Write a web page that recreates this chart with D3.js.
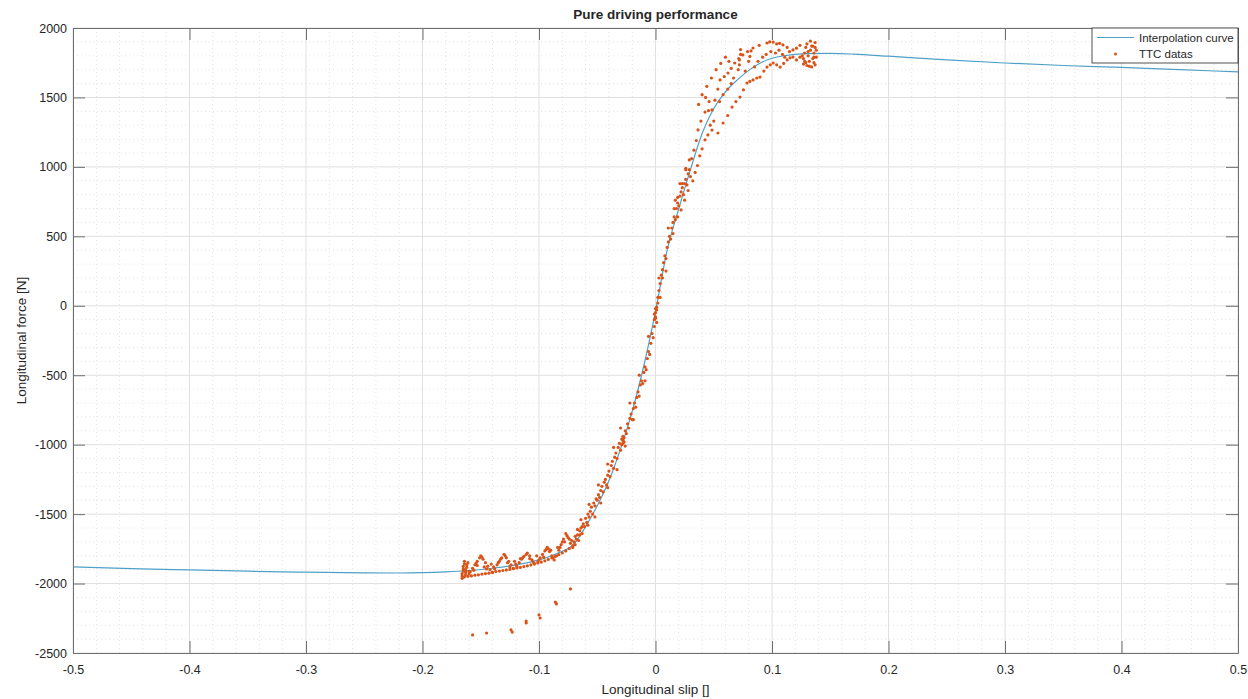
<!DOCTYPE html>
<html>
<head>
<meta charset="utf-8">
<script src="https://cdn.jsdelivr.net/npm/d3@7"></script>
<style>
  body { margin: 0; background: #fff; }
  text { font-family: "Liberation Sans", Arial, sans-serif; fill: #262626; }
</style>
</head>
<body>
<div id="chart"></div>
<script>
// tick labels
const xTicks = [-0.5, -0.4, -0.3, -0.2, -0.1, 0, 0.1, 0.2, 0.3, 0.4, 0.5]
const xTickLabels = ['-0.5', '-0.4', '-0.3', '-0.2', '-0.1', '0', '0.1', '0.2', '0.3', '0.4', '0.5']
const yTicks = [-2500, -2000, -1500, -1000, -500, 0, 500, 1000, 1500, 2000]

// interpolation curve
const curveSlip = [-0.5, -0.45, -0.4, -0.35, -0.3, -0.25, -0.22, -0.2, -0.18, -0.16, -0.14, -0.12, -0.1, -0.085, -0.07, -0.06, -0.05, -0.04, -0.03, -0.02, -0.01, 0, 0.01, 0.02, 0.03, 0.04, 0.05, 0.06, 0.07, 0.08, 0.09, 0.1, 0.11, 0.12, 0.13, 0.15, 0.17, 0.2, 0.25, 0.3, 0.35, 0.4, 0.45, 0.5]
const curveForce = [-1880, -1892, -1902, -1911, -1918, -1923, -1924, -1922, -1916, -1906, -1890, -1866, -1830, -1785, -1715, -1590, -1440, -1260, -1030, -760, -430, -40, 400, 700, 980, 1240, 1420, 1540, 1625, 1695, 1748, 1782, 1800, 1810, 1815, 1817, 1812, 1797, 1770, 1748, 1730, 1716, 1700, 1684]

// TTC datas, [slip, force]
const lowBand = [
  [-0.166, -1962], [-0.166, -1945], [-0.166, -1928], [-0.165, -1910], [-0.165, -1893], [-0.165, -1876],
  [-0.164, -1858], [-0.164, -1840], [-0.164, -1952], [-0.163, -1935], [-0.163, -1918], [-0.163, -1900],
  [-0.162, -1883], [-0.162, -1866], [-0.161, -1948], [-0.161, -1850], [-0.160, -1930], [-0.160, -1912],
  [-0.159, -1915], [-0.157, -1890], [-0.155, -1865], [-0.153, -1840], [-0.151, -1815], [-0.150, -1800],
  [-0.148, -1825], [-0.146, -1850], [-0.144, -1875], [-0.142, -1900], [-0.140, -1920],
  [-0.138, -1895], [-0.136, -1865], [-0.134, -1840], [-0.132, -1815], [-0.130, -1790],
  [-0.128, -1815], [-0.126, -1840], [-0.124, -1865], [-0.122, -1890],
  [-0.119, -1875], [-0.117, -1850], [-0.115, -1825], [-0.113, -1805], [-0.110, -1780],
  [-0.108, -1800], [-0.106, -1830], [-0.104, -1855],
  [-0.101, -1845], [-0.099, -1815], [-0.097, -1790], [-0.095, -1765], [-0.093, -1740],
  [-0.091, -1770], [-0.089, -1800], [-0.087, -1830],
  [-0.085, -1800], [-0.083, -1760], [-0.081, -1720], [-0.079, -1680], [-0.077, -1640],
  [-0.075, -1670], [-0.073, -1710],
  [-0.158, -1945], [-0.155, -1940], [-0.152, -1937], [-0.149, -1932], [-0.146, -1928], [-0.143, -1925],
  [-0.140, -1920], [-0.137, -1914], [-0.134, -1910], [-0.131, -1906], [-0.128, -1902], [-0.125, -1898],
  [-0.122, -1893], [-0.119, -1888], [-0.116, -1884], [-0.113, -1878], [-0.110, -1872], [-0.107, -1866],
  [-0.104, -1860], [-0.101, -1852], [-0.098, -1845], [-0.095, -1836], [-0.092, -1826], [-0.089, -1815],
  [-0.086, -1804], [-0.083, -1792], [-0.080, -1780], [-0.077, -1765], [-0.074, -1748], [-0.071, -1728],
  [-0.153, -1870], [-0.147, -1880], [-0.141, -1860], [-0.135, -1850], [-0.127, -1850], [-0.121, -1840],
  [-0.116, -1820], [-0.108, -1820], [-0.102, -1800], [-0.096, -1810], [-0.090, -1760], [-0.084, -1740],
  [-0.078, -1700], [-0.074, -1680],
  [-0.156, -1905], [-0.154, -1855], [-0.149, -1810], [-0.145, -1895], [-0.139, -1880], [-0.133, -1825],
  [-0.129, -1800], [-0.125, -1880], [-0.120, -1860], [-0.114, -1815], [-0.111, -1790], [-0.105, -1845],
  [-0.100, -1830], [-0.094, -1755], [-0.092, -1750], [-0.088, -1815], [-0.082, -1740], [-0.080, -1700],
  [-0.076, -1655], [-0.072, -1690], [-0.069, -1660], [-0.067, -1610], [-0.065, -1650], [-0.063, -1590]
]

const midBand = [
  [-0.071, -1740], [-0.070, -1700], [-0.069, -1720], [-0.068, -1680], [-0.067, -1650], [-0.066, -1690],
  [-0.065, -1620], [-0.064, -1600], [-0.063, -1640], [-0.062, -1570], [-0.061, -1590], [-0.060, -1530],
  [-0.059, -1560], [-0.058, -1500], [-0.057, -1520], [-0.056, -1480], [-0.055, -1450], [-0.054, -1500],
  [-0.053, -1420], [-0.052, -1440], [-0.051, -1390], [-0.050, -1400], [-0.049, -1360], [-0.048, -1380],
  [-0.047, -1330], [-0.046, -1300], [-0.045, -1340], [-0.044, -1270], [-0.043, -1250], [-0.042, -1290],
  [-0.041, -1220], [-0.040, -1190], [-0.039, -1230], [-0.038, -1150], [-0.037, -1120], [-0.036, -1170],
  [-0.035, -1090], [-0.034, -1060], [-0.033, -1100], [-0.032, -1020], [-0.031, -990], [-0.030, -1040],
  [-0.029, -960], [-0.028, -970], [-0.028, -940], [-0.027, -950], [-0.026, -900], [-0.025, -920],
  [-0.024, -850], [-0.023, -880], [-0.022, -810], [-0.021, -780], [-0.020, -820], [-0.019, -740],
  [-0.018, -700], [-0.017, -730], [-0.016, -660], [-0.015, -620], [-0.014, -650], [-0.013, -570],
  [-0.012, -540], [-0.011, -560], [-0.010, -480], [-0.009, -440], [-0.008, -460], [-0.007, -380],
  [-0.006, -330], [-0.005, -350], [-0.004, -270], [-0.003, -200], [-0.002, -230], [-0.001, -150],
  [-0.001, -100], [0.000, -80], [0.000, -50], [0.001, -30], [0.001, -120], [0.002, 20], [0.002, 60],
  [0.003, 110], [0.004, 160], [0.005, 220], [0.006, 200], [0.006, 260], [0.007, 310], [0.008, 360],
  [0.009, 340], [0.010, 420], [0.011, 460], [0.012, 500], [0.013, 480], [0.014, 560], [0.015, 600],
  [0.016, 640], [0.017, 620], [0.018, 700], [0.019, 740], [0.020, 720], [0.021, 790], [0.022, 820],
  [0.023, 850], [0.024, 800], [0.025, 880], [0.026, 910], [0.027, 870], [0.028, 950], [0.029, 980],
  [0.030, 930],
  [-0.058, -1580], [-0.052, -1520], [-0.047, -1420], [-0.041, -1310], [-0.033, -1180], [-0.026, -1010],
  [-0.019, -820], [-0.009, -540], [0.004, 60], [0.009, 250], [0.015, 520], [0.019, 640],
  [-0.064, -1540], [-0.057, -1430], [-0.049, -1290], [-0.041, -1140], [-0.036, -1020], [-0.030, -880],
  [-0.022, -700], [-0.014, -500], [-0.006, -220], [0.003, 200], [0.011, 560], [0.017, 760],
  [0.021, 880], [0.026, 990],
  [-0.028, -990], [-0.027, -980], [-0.029, -1000], [-0.028, -960],
  [0.000, -20], [-0.001, -60], [0.000, -90], [0.001, -10]
]

const topBand = [
  [0.031, 1060], [0.033, 1120], [0.035, 1190], [0.0365, 1266], [0.039, 1330], [0.0425, 1395],
  [0.0455, 1405], [0.0485, 1410], [0.051, 1480], [0.0535, 1560], [0.0554, 1626], [0.059, 1650],
  [0.0622, 1676], [0.065, 1710], [0.068, 1748], [0.0715, 1780], [0.075, 1806], [0.079, 1830],
  [0.0837, 1856], [0.089, 1875], [0.0957, 1892], [0.098, 1900], [0.101, 1899], [0.104, 1885],
  [0.1065, 1890], [0.1094, 1878], [0.113, 1860], [0.118, 1842], [0.121, 1855], [0.124, 1875],
  [0.071, 1700], [0.072, 1735], [0.072, 1770], [0.073, 1810], [0.073, 1845],
  [0.080, 1760], [0.081, 1795], [0.082, 1835],
  [0.0536, 1244], [0.058, 1316], [0.062, 1370], [0.0657, 1431], [0.069, 1470], [0.0725, 1503],
  [0.0755, 1555], [0.0785, 1604], [0.081, 1615], [0.0837, 1626], [0.087, 1640], [0.0897, 1647],
  [0.093, 1690], [0.0957, 1719], [0.0985, 1735], [0.101, 1748], [0.104, 1735], [0.107, 1719],
  [0.110, 1745], [0.113, 1770], [0.1155, 1785], [0.118, 1791], [0.121, 1770], [0.124, 1790],
  [0.0425, 1195], [0.045, 1230], [0.0485, 1265], [0.047, 1300], [0.050, 1330],
  [0.062, 1560], [0.065, 1600], [0.067, 1640], [0.077, 1690], [0.085, 1720], [0.088, 1760],
  [0.092, 1790], [0.095, 1810], [0.099, 1830], [0.103, 1820], [0.106, 1840], [0.109, 1810],
  [0.111, 1790], [0.115, 1830],
  [0.127, 1740], [0.127, 1780], [0.128, 1820], [0.129, 1860], [0.130, 1730], [0.130, 1885],
  [0.131, 1800], [0.132, 1760], [0.133, 1905], [0.133, 1840], [0.134, 1720], [0.135, 1780],
  [0.135, 1870], [0.136, 1750], [0.136, 1820], [0.137, 1895], [0.137, 1860], [0.137, 1735],
  [0.138, 1790], [0.138, 1840], [0.126, 1800], [0.128, 1760], [0.131, 1830], [0.134, 1870],
  [0.136, 1790], [0.132, 1725], [0.129, 1750],
  [0.016, 700], [0.019, 780], [0.023, 880], [0.026, 980], [0.029, 1050],
  [0.022, 690], [0.025, 760], [0.028, 830], [0.032, 900], [0.034, 960], [0.036, 1010],
  [0.038, 1080], [0.040, 1130],
  [0.037, 1450], [0.040, 1520], [0.044, 1580], [0.048, 1640], [0.052, 1700], [0.056, 1745],
  [0.060, 1790], [0.063, 1760], [0.043, 1500], [0.046, 1470], [0.055, 1470], [0.058, 1520]
]

const outliers = [
  [-0.157, -2370], [-0.145, -2356], [-0.124, -2334], [-0.123, -2349], [-0.111, -2284], [-0.111, -2270],
  [-0.100, -2226], [-0.099, -2248], [-0.086, -2133], [-0.085, -2147], [-0.073, -2039]
]

const margin = { top: 28, right: 10, bottom: 46, left: 73 }
const width = 1248 - margin.left - margin.right
const height = 699 - margin.top - margin.bottom

const svg = d3
  .select('#chart')
  .append('svg')
  .attr('width', 1248)
  .attr('height', 699)

const g = svg
  .append('g')
  .attr('transform', 'translate(' + margin.left + ',' + margin.top + ')')

const xScale = d3.scaleLinear().domain([-0.5, 0.5]).range([0, width])
const yScale = d3.scaleLinear().domain([-2500, 2000]).range([height, 0])

// minor grid (dotted)
const xMinor = d3.range(-50, 51, 2).map(i => i / 100).filter(v => Math.round(v * 100) % 10 !== 0)
const yMinor = d3.range(-2500, 2001, 100).filter(v => v % 500 !== 0)

g.append('g')
  .selectAll('line')
  .data(xMinor)
  .enter()
  .append('line')
  .attr('x1', d => xScale(d))
  .attr('x2', d => xScale(d))
  .attr('y1', 0)
  .attr('y2', height)
  .attr('stroke', '#e3e3e3')
  .attr('stroke-dasharray', '1,3')

g.append('g')
  .selectAll('line')
  .data(yMinor)
  .enter()
  .append('line')
  .attr('x1', 0)
  .attr('x2', width)
  .attr('y1', d => yScale(d))
  .attr('y2', d => yScale(d))
  .attr('stroke', '#e3e3e3')
  .attr('stroke-dasharray', '1,3')

// major grid
g.append('g')
  .selectAll('line')
  .data(xTicks)
  .enter()
  .append('line')
  .attr('x1', d => xScale(d))
  .attr('x2', d => xScale(d))
  .attr('y1', 0)
  .attr('y2', height)
  .attr('stroke', '#e0e0e0')

g.append('g')
  .selectAll('line')
  .data(yTicks)
  .enter()
  .append('line')
  .attr('x1', 0)
  .attr('x2', width)
  .attr('y1', d => yScale(d))
  .attr('y2', d => yScale(d))
  .attr('stroke', '#e0e0e0')

// interpolation curve
const curvePts = curveSlip.map((s, i) => [s, curveForce[i]])
const line = d3
  .line()
  .x(d => xScale(d[0]))
  .y(d => yScale(d[1]))
  .curve(d3.curveMonotoneX)

g.append('path')
  .datum(curvePts)
  .attr('d', line)
  .attr('fill', 'none')
  .attr('stroke', '#4fa0c8')
  .attr('stroke-width', 1.2)

// TTC datas
const allPts = lowBand.concat(midBand, topBand, outliers)
g.append('g')
  .selectAll('circle')
  .data(allPts)
  .enter()
  .append('circle')
  .attr('cx', d => xScale(d[0]))
  .attr('cy', d => yScale(d[1]))
  .attr('r', 1.6)
  .attr('fill', '#D95319')

// axes, ticks pointing inward like matlab
const axisColor = '#6e6e6e'
function styleAxis (sel) {
  sel.selectAll('.domain').attr('stroke', axisColor)
  sel.selectAll('.tick line').attr('stroke', axisColor)
  sel.selectAll('.tick text')
    .style('font-family', '"Liberation Sans", Arial, sans-serif')
    .style('font-size', '12.5px')
    .attr('fill', '#262626')
}

g.append('g')
  .attr('transform', 'translate(0,' + height + ')')
  .call(d3.axisBottom(xScale).tickValues(xTicks).tickFormat((d, i) => xTickLabels[i]).tickSizeInner(-12).tickSizeOuter(0).tickPadding(12))
  .call(styleAxis)

g.append('g')
  .call(d3.axisTop(xScale).tickValues(xTicks).tickFormat('').tickSizeInner(-12).tickSizeOuter(0))
  .call(styleAxis)

g.append('g')
  .call(d3.axisLeft(yScale).tickValues(yTicks).tickFormat(d => String(d)).tickSizeInner(-12).tickSizeOuter(0).tickPadding(6))
  .call(styleAxis)

g.append('g')
  .attr('transform', 'translate(' + width + ',0)')
  .call(d3.axisRight(yScale).tickValues(yTicks).tickFormat('').tickSizeInner(-12).tickSizeOuter(0))
  .call(styleAxis)

// title and labels
svg.append('text')
  .attr('x', margin.left + width / 2)
  .attr('y', 19)
  .attr('text-anchor', 'middle')
  .style('font-size', '13.5px')
  .style('font-weight', 'bold')
  .text('Pure driving performance')

svg.append('text')
  .attr('x', margin.left + width / 2)
  .attr('y', 694)
  .attr('text-anchor', 'middle')
  .style('font-size', '13.5px')
  .text('Longitudinal slip []')

svg.append('text')
  .attr('transform', 'translate(26,' + (margin.top + height / 2) + ') rotate(-90)')
  .attr('text-anchor', 'middle')
  .style('font-size', '13.5px')
  .text('Longitudinal force [N]')

// legend
const legend = g.append('g').attr('transform', 'translate(' + (width - 146) + ',0)')
legend.append('rect')
  .attr('width', 146)
  .attr('height', 35)
  .attr('fill', '#fff')
  .attr('stroke', '#262626')
  .attr('stroke-width', 0.8)
legend.append('line')
  .attr('x1', 5)
  .attr('x2', 42)
  .attr('y1', 9.5)
  .attr('y2', 9.5)
  .attr('stroke', '#4fa0c8')
  .attr('stroke-width', 1.2)
legend.append('circle')
  .attr('cx', 23.5)
  .attr('cy', 26)
  .attr('r', 1.5)
  .attr('fill', '#D95319')
legend.append('text')
  .attr('x', 47)
  .attr('y', 13.5)
  .style('font-size', '11.5px')
  .text('Interpolation curve')
legend.append('text')
  .attr('x', 47)
  .attr('y', 30)
  .style('font-size', '11.5px')
  .text('TTC datas')
</script>
</body>
</html>
